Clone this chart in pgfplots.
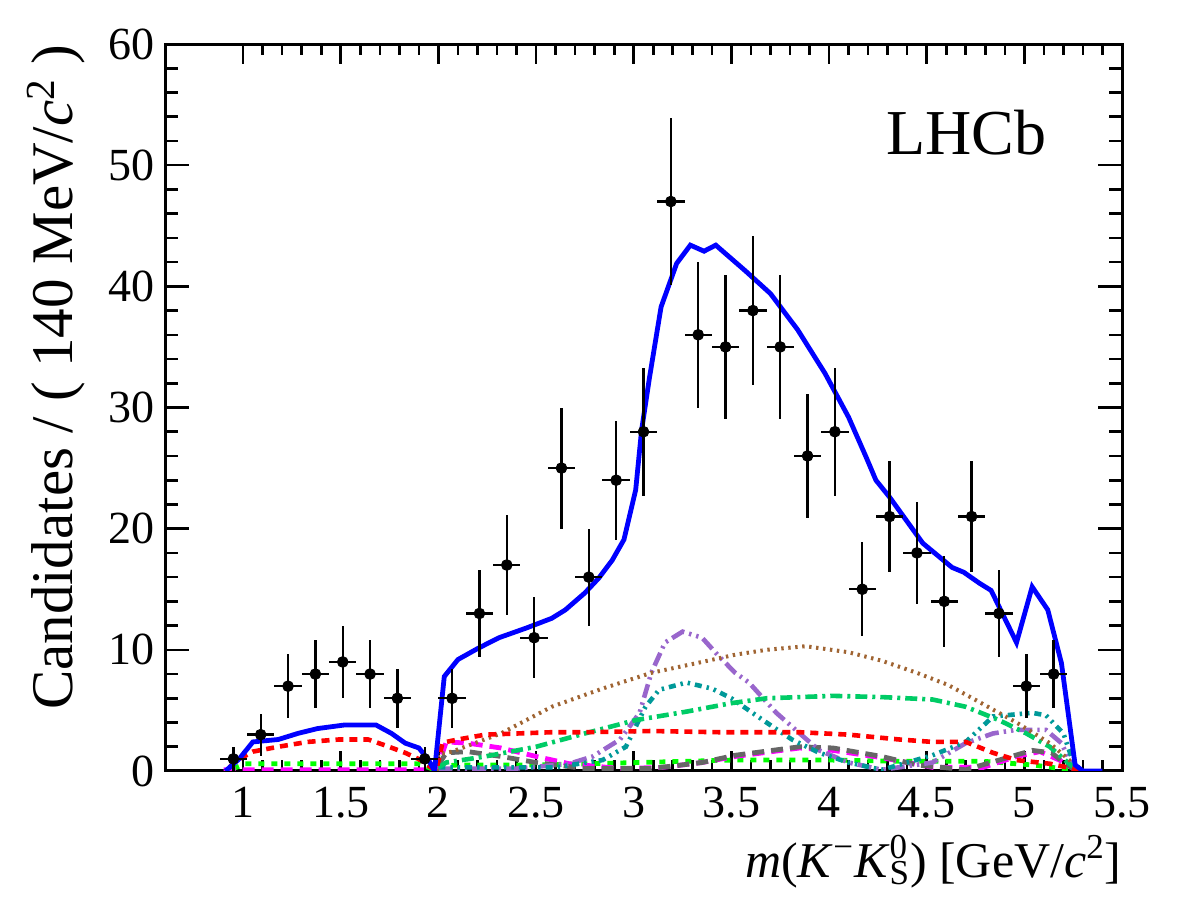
\documentclass[border=0pt]{standalone}
\usepackage{fontspec}
\setmainfont{Liberation Serif}
\usepackage{pgfplots}
\pgfplotsset{compat=1.18}
\definecolor{fitblue}{RGB}{0,0,255}
\definecolor{cred}{RGB}{255,0,0}
\definecolor{cbrown}{RGB}{160,100,50}
\definecolor{cgreen}{RGB}{0,204,102}
\definecolor{cteal}{RGB}{0,153,153}
\definecolor{cpurple}{RGB}{153,102,204}
\definecolor{cgray}{RGB}{102,102,102}
\definecolor{cmag}{RGB}{255,0,255}
\definecolor{clime}{RGB}{0,255,0}
\begin{document}
\begin{tikzpicture}
\useasboundingbox (0,0) rectangle (591pt,457.5pt);
\begin{axis}[
  at={(82.5pt,72pt)}, anchor=south west,
  scale only axis, width=478.5pt, height=363.5pt,
  xmin=0.6, xmax=5.5, ymin=0, ymax=60,
  xtick={1,1.5,2,2.5,3,3.5,4,4.5,5,5.5},
  ytick={0,10,20,30,40,50,60},
  minor x tick num=4, minor y tick num=4,
  tick align=inside, xtick pos=both, ytick pos=both,
  major tick length=12pt, minor tick length=6.5pt,
  every x tick/.append style={/pgfplots/major tick length=10pt,/pgfplots/minor tick length=5.5pt},
  axis line style={line width=1.5pt},
  every tick/.style={line width=1.3pt, black},
  /pgf/number format/assume math mode=true,
  xticklabel style={font=\fontsize{23}{26}\selectfont, inner sep=0pt, anchor=north, yshift=-8pt},
  yticklabel style={font=\fontsize{23}{26}\selectfont, inner sep=0pt, anchor=east, xshift=-5pt},
  every axis y label/.style={at={(axis description cs:0,1)}, xshift=-46pt, rotate=90, anchor=base east, inner sep=0pt, font=\fontsize{29.5}{32}\selectfont},
  every axis x label/.style={at={(axis description cs:1,0)}, yshift=-53pt, anchor=base east, inner sep=0pt, font=\fontsize{25}{28}\selectfont},
  ylabel={Candidates / ( 140 MeV/\textit{c}\textsuperscript{2} )},
  xlabel={\textit{m}(\textit{K}\textsuperscript{−}\textit{K}\rlap{\textsuperscript{0}}\textsubscript{S}) [GeV/\textit{c}\textsuperscript{2}]},
]
% lime dotted
\addplot[clime, line width=2.4pt, dash pattern=on 3pt off 3.5pt] coordinates {
(0.95,0.2) (1.01,0.6) (1.50,0.6) (1.90,0.6) (1.98,0.1) (2.02,0.4) (2.10,0.5) (2.50,0.5) (3.03,0.7) (3.50,0.9) (4.02,0.9) (4.36,0.8) (4.79,0.8) (5.04,0.5) (5.19,0.2) (5.28,0)};
% magenta
\addplot[cmag, line width=2.4pt, dash pattern=on 6pt off 3.5pt] coordinates {
(0.90,0.1) (1.98,0.1) (2.00,0.5) (2.04,2.4) (2.15,2.3) (2.32,1.9) (2.50,1.2) (2.67,0.6) (2.93,0.2) (3.15,0.3) (3.35,0.7) (3.52,1.2) (3.85,1.9) (4.02,1.7) (4.27,1.1) (4.53,0.3) (4.79,0.3) (4.96,1.2) (5.08,1.6) (5.18,0.9) (5.24,0.3) (5.28,0)};
% gray
\addplot[cgray, line width=2.4pt, dash pattern=on 6pt off 3.5pt] coordinates {
(2.00,0.5) (2.04,1.5) (2.15,1.6) (2.32,1.2) (2.50,0.7) (2.75,0.2) (3.09,0.2) (3.35,0.7) (3.52,1.3) (3.85,2.0) (4.02,1.9) (4.27,1.2) (4.45,0.5) (4.70,0.1) (4.87,0.9) (5.04,1.7) (5.14,1.5) (5.21,0.6) (5.27,0)};
% purple
\addplot[cpurple, line width=2.3pt, dash pattern=on 7pt off 2.5pt on 1.2pt off 2.5pt on 1.2pt off 2.5pt] coordinates {
(2.00,0.2) (2.40,0.2) (2.67,0.6) (2.79,1.2) (2.93,2.6) (3.03,4.8) (3.09,8.1) (3.16,10.6) (3.25,11.5) (3.35,11.0) (3.44,9.4) (3.52,8.1) (3.59,7.3) (3.73,4.8) (3.85,3.1) (3.95,1.7) (4.10,0.7) (4.27,0.1) (4.53,0.7) (4.70,2.3) (4.84,3.1) (4.96,3.4) (5.11,3.4) (5.19,2.3) (5.24,0.6) (5.28,0)};
% teal
\addplot[cteal, line width=2.3pt, dash pattern=on 3.5pt off 2.5pt on 1.2pt off 2.5pt on 1.2pt off 2.5pt] coordinates {
(2.00,0.3) (2.30,0.3) (2.60,0.3) (2.84,0.9) (2.96,2.0) (3.06,5.3) (3.13,6.7) (3.27,7.3) (3.40,6.8) (3.50,6.0) (3.68,4.0) (3.81,2.6) (3.95,1.5) (4.10,0.7) (4.27,0.1) (4.53,1.3) (4.70,2.4) (4.84,4.5) (5.04,4.8) (5.11,4.6) (5.20,3.1) (5.24,1.2) (5.28,0.2)};
% green dash-dot
\addplot[cgreen, line width=2.3pt, dash pattern=on 6pt off 2.5pt on 1.5pt off 2.5pt] coordinates {
(2.00,0.3) (2.04,0.7) (2.24,1.2) (2.50,2.0) (2.75,3.1) (3.01,4.2) (3.27,4.9) (3.50,5.6) (3.68,6.0) (4.02,6.2) (4.27,6.1) (4.53,5.9) (4.70,5.3) (4.87,4.2) (5.01,3.1) (5.13,2.0) (5.23,0.6) (5.28,0)};
% brown dotted
\addplot[cbrown, line width=2pt, dash pattern=on 1.2pt off 2.3pt] coordinates {
(1.99,0) (2.00,1.4) (2.07,1.6) (2.32,3.1) (2.58,5.3) (2.84,6.8) (3.09,8.1) (3.35,9.0) (3.52,9.6) (3.68,10.0) (3.88,10.3) (4.10,9.8) (4.27,9.1) (4.45,8.1) (4.61,7.1) (4.78,5.6) (4.96,4.0) (5.13,2.3) (5.23,0.9) (5.27,0.2) (5.30,0)};
% red dashed
\addplot[cred, line width=2.3pt, dash pattern=on 4pt off 3pt] coordinates {
(0.93,0.3) (0.97,0.9) (1.05,1.6) (1.18,2.0) (1.33,2.4) (1.49,2.6) (1.64,2.6) (1.73,2.1) (1.83,1.5) (1.91,0.9) (1.96,0.3) (1.99,0.1) (2.02,2.3) (2.04,2.4) (2.10,2.6) (2.24,3.0) (2.41,3.1) (2.58,3.2) (2.75,3.2) (3.09,3.3) (3.44,3.2) (3.85,3.2) (4.10,3.0) (4.36,2.6) (4.53,2.4) (4.70,2.4) (4.84,1.5) (4.96,0.9) (5.13,0.6) (5.22,0.3) (5.28,0)};
% total fit
\addplot[fitblue, line width=2.4pt] coordinates {
(0.91,0) (0.98,1.0) (1.05,2.4) (1.18,2.6) (1.28,3.1) (1.38,3.5) (1.52,3.8) (1.68,3.8) (1.76,3.1) (1.83,2.3) (1.90,1.9) (1.95,0.9) (1.98,0.0) (2.03,7.8) (2.10,9.2) (2.20,10.1) (2.31,11.0) (2.45,11.8) (2.58,12.6) (2.65,13.3) (2.75,14.7) (2.82,15.9) (2.89,17.4) (2.95,19.1) (3.01,23.2) (3.04,28.1) (3.08,32.4) (3.14,38.3) (3.22,41.9) (3.29,43.4) (3.36,42.9) (3.42,43.4) (3.57,41.3) (3.70,39.4) (3.84,36.4) (3.98,32.8) (4.10,29.2) (4.19,25.9) (4.24,24.0) (4.31,22.6) (4.48,18.8) (4.63,16.8) (4.69,16.4) (4.77,15.5) (4.83,14.9) (4.96,10.6) (5.04,15.2) (5.12,13.3) (5.19,8.9) (5.26,0.5) (5.30,0) (5.40,0)};
% data
\addplot[only marks, mark=*, mark size=2.7pt, black, mark options={fill=black, draw=black},
  error bars/.cd, x dir=both, x explicit, y dir=both, y explicit,
  error bar style={line width=1.2pt, black}, error mark=none]
  table[x=x, y=y, x error=ex, y error=ey] {
x y ex ey
0.95 1 0.07 1.00
1.09 3 0.07 1.73
1.23 7 0.07 2.65
1.37 8 0.07 2.83
1.51 9 0.07 3.00
1.65 8 0.07 2.83
1.79 6 0.07 2.45
1.93 1 0.07 1.00
2.07 6 0.07 2.45
2.21 13 0.07 3.61
2.35 17 0.07 4.12
2.49 11 0.07 3.32
2.63 25 0.07 5.00
2.77 16 0.07 4.00
2.91 24 0.07 4.90
3.05 28 0.07 5.29
3.19 47 0.07 6.86
3.33 36 0.07 6.00
3.47 35 0.07 5.92
3.61 38 0.07 6.16
3.75 35 0.07 5.92
3.89 26 0.07 5.10
4.03 28 0.07 5.29
4.17 15 0.07 3.87
4.31 21 0.07 4.58
4.45 18 0.07 4.24
4.59 14 0.07 3.74
4.73 21 0.07 4.58
4.87 13 0.07 3.61
5.01 7 0.07 2.65
5.15 8 0.07 2.83
};
\node[anchor=base west, inner sep=0pt, font=\fontsize{32}{36}\selectfont] at (axis cs:4.29,50.84) {LHCb};
\end{axis}
\end{tikzpicture}
\end{document}
